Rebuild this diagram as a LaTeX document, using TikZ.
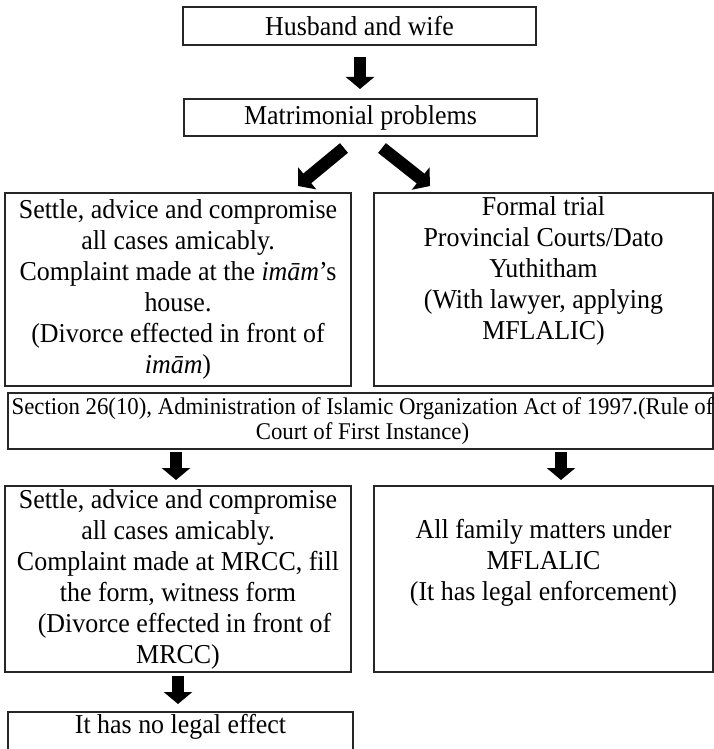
\documentclass[tikz,border=0pt]{standalone}
\usepackage{fontspec}
\setmainfont{Liberation Serif}
\newfontfamily\tallserif[FakeStretch=0.95]{Liberation Serif}
\usetikzlibrary{arrows.meta}
\tikzset{
  box/.style={draw=black!85, line width=1.6pt, inner sep=0pt, outer sep=0pt, anchor=north west},
  txt/.style={align=center, font=\tallserif\fontsize{27.3}{31}\selectfont, inner sep=0pt},
  sectxt/.style={align=center, font=\tallserif\fontsize{24}{25}\selectfont, inner sep=0pt},
  blockarrow/.style={line width=12.5pt, -{Triangle[width=28pt,length=12pt]}, black},
}
\begin{document}
\begin{tikzpicture}[x=1pt,y=-1pt]
\useasboundingbox (0,0) rectangle (714,749);
% boxes
\node[box, txt, minimum width=353pt, minimum height=38pt] (hw) at (183,7) {Husband and wife};
\node[box, txt, minimum width=353pt, minimum height=37pt] (mp) at (184,99) {Matrimonial problems};
\node[box, txt, minimum width=346pt, minimum height=193pt] (l1) at (5,193)
  {Settle, advice and compromise\\all cases amicably.\\Complaint made at the \textit{imām}’s\\house.\\(Divorce effected in front of\\\textit{imām})};
\node[box, minimum width=339pt, minimum height=193pt] (r1) at (374,193) {};
\node[txt, anchor=north] (r1t) at ([yshift=-3pt]r1.north)
  {Formal trial\\Provincial Courts/Dato\\Yuthitham\\(With lawyer, applying\\MFLALIC)};
\node[box, minimum width=705pt, minimum height=56pt] (sec) at (8,393) {};
\node[sectxt] (sect) at ([xshift=2pt]sec.center)
  {Section 26(10), Administration of Islamic Organization Act of 1997.(Rule of\\Court of First Instance)};
\node[box, txt, minimum width=346pt, minimum height=186pt] (l2) at (5,486)
  {Settle, advice and compromise\\all cases amicably.\\Complaint made at MRCC, fill\\the form, witness form\\\ \ (Divorce effected in front of\\MRCC)};
\node[box, minimum width=339pt, minimum height=186pt] (r2) at (374,486) {};
\node[txt, anchor=north] (r2t) at ([yshift=-33pt]r2.north)
  {All family matters under\\MFLALIC\\(It has legal enforcement)};
\node[box, minimum width=345pt, minimum height=60pt] (last) at (8,712) {};
\node[txt, anchor=north] (lastt) at ([yshift=-2pt]last.north) {It has no legal effect};
% arrow end points
\coordinate (a1s) at (360,57);  \coordinate (a1e) at (360,89);
\coordinate (a2s) at (344,148); \coordinate (a2e) at (298,186);
\coordinate (a3s) at (382,148); \coordinate (a3e) at (430,186);
\coordinate (a4s) at (176,452); \coordinate (a4e) at (176,480);
\coordinate (a5s) at (561,452); \coordinate (a5e) at (561,480);
\coordinate (a6s) at (178,676); \coordinate (a6e) at (178,704);
\draw[blockarrow] (a1s) -- (a1e);
\draw[blockarrow] (a2s) -- (a2e);
\draw[blockarrow] (a3s) -- (a3e);
\draw[blockarrow] (a4s) -- (a4e);
\draw[blockarrow] (a5s) -- (a5e);
\draw[blockarrow] (a6s) -- (a6e);
\end{tikzpicture}
\end{document}
